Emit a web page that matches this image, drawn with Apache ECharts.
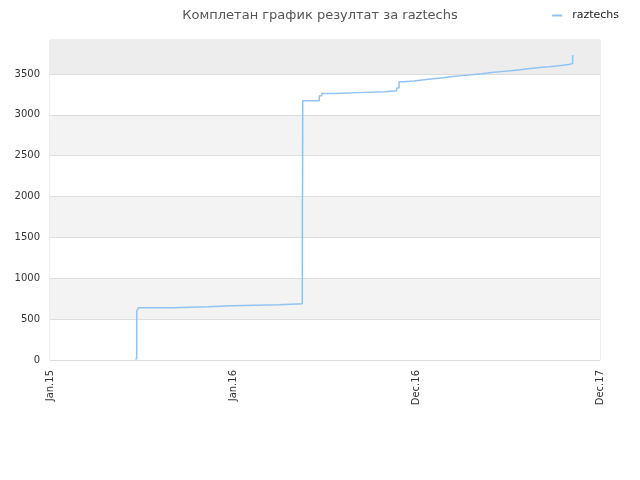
<!DOCTYPE html>
<html><head><meta charset="utf-8">
<script src="https://cdn.jsdelivr.net/npm/echarts@6/dist/echarts.min.js"></script>
<style>html,body{margin:0;padding:0;background:#fff}#c{width:640px;height:480px}</style>
</head><body><div id="c"></div>
<script>
const titleText = "Комплетан график резултат за raztechs";
const seriesName = "raztechs";
const xTickLabels = ["Jan.15", "Jan.16", "Dec.16", "Dec.17"];
const xPos = [0.4675, 0.473, 0.4735, 0.4816, 0.669, 0.860, 0.993, 1.249, 1.376, 1.3765, 1.377, 1.3775, 1.378, 1.3785, 1.469, 1.482, 1.551, 1.685, 1.827, 1.891, 1.904, 1.933, 1.985, 2.040, 2.091, 2.144, 2.198, 2.249, 2.302, 2.355, 2.407, 2.460, 2.513, 2.565, 2.618, 2.671, 2.724, 2.776, 2.829, 2.851];
const yVal = [5, 30, 600, 640, 652, 665, 677, 689, 701, 1955, 2028, 2195, 2652, 3174, 3235, 3260, 3272, 3284, 3296, 3330, 3406, 3415, 3431, 3443, 3455, 3468, 3480, 3492, 3504, 3517, 3529, 3541, 3553, 3566, 3578, 3590, 3602, 3615, 3627, 3733];
const yMax = 3916;

const data = xPos.map((x, i) => [x, yVal[i]]);
const chart = echarts.init(document.getElementById('c'));
chart.setOption({
  animation: false,
  title: { text: titleText, left: 'center', top: 4, textStyle: { fontSize: 13, fontWeight: 'normal', color: '#555', fontFamily: 'DejaVu Sans' } },
  legend: { right: 16, top: 5, itemWidth: 10, itemHeight: 2, icon: 'rect', textStyle: { fontSize: 11, color: '#222', fontFamily: 'DejaVu Sans', padding: [0, 0, 0, 5] }, data: [seriesName] },
  grid: { left: 50, right: 40, top: 40, bottom: 120, show: true, borderColor: '#ddd', borderWidth: 1 },
  xAxis: {
    type: 'value', min: 0, max: 3, interval: 1,
    axisLine: { show: false }, axisTick: { show: false }, splitLine: { show: false },
    axisLabel: { rotate: 90, fontSize: 10, color: '#333', fontFamily: 'DejaVu Sans', margin: 10,
      formatter: v => xTickLabels[Math.round(v)] || '' }
  },
  yAxis: {
    type: 'value', min: 0, max: yMax, interval: 500,
    axisLine: { show: false }, axisTick: { show: false },
    splitLine: { lineStyle: { color: '#ddd' } },
    splitArea: { show: true, areaStyle: { color: ['#ffffff', '#f3f3f3'] } },
    axisLabel: { fontSize: 10, color: '#333', fontFamily: 'DejaVu Sans', margin: 10,
      formatter: v => (v % 500 === 0 ? String(v) : '') }
  },
  series: [{
    name: seriesName, type: 'line', step: 'end', data: data,
    showSymbol: false, symbol: 'none',
    lineStyle: { color: '#90c3f3', width: 1.5 }, itemStyle: { color: '#90c3f3' },
    markArea: { silent: true, itemStyle: { color: '#ededed' }, data: [[{ yAxis: 3500 }, { yAxis: yMax }]] }
  }]
});
</script></body></html>
